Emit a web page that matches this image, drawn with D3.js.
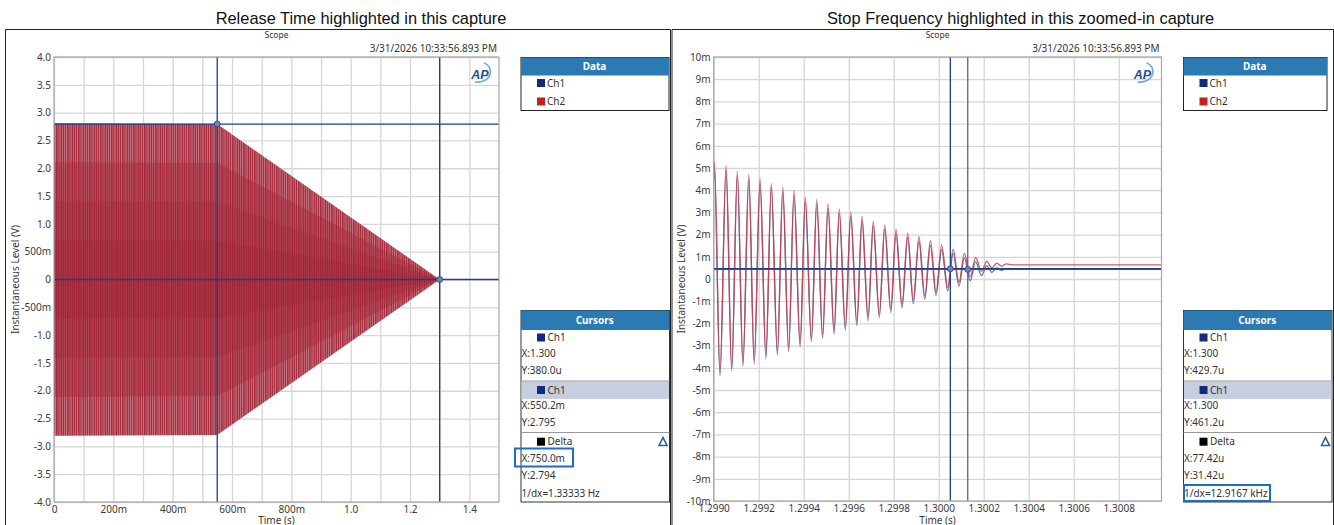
<!DOCTYPE html>
<html>
<head>
<meta charset="utf-8">
<script src="https://cdn.jsdelivr.net/npm/d3@7"></script>
<style>
  html, body { margin: 0; padding: 0; background: #fff; }
  svg { display: block; }
</style>
</head>
<body>
<svg id="chart" width="1334" height="525"></svg>
<script>
// ---------- captions ----------
const captureTitles = [
  "Release Time highlighted in this capture",
  "Stop Frequency highlighted in this zoomed-in capture"
];
const scopeName = "Scope";
const timestamp = "3/31/2026 10:33:56.893 PM";
const seriesNames = ["Ch1", "Ch2"];
const yAxisTitle = "Instantaneous Level (V)";
const xAxisTitle = "Time (s)";

// ---------- release capture (full burst) ----------
// envelope of the tone burst: time (s) and peak amplitude (V)
const releaseEnvTime = [0, 0.5502, 1.300, 1.5];
const releaseEnvAmp  = [2.81, 2.795, 0, 0];
const releaseXTicks = [0, 0.2, 0.4, 0.6, 0.8, 1.0, 1.2, 1.4];
const releaseXTickLabels = ["0", "200m", "400m", "600m", "800m", "1.0", "1.2", "1.4"];
const releaseXGrid = [0, 0.1, 0.2, 0.3, 0.4, 0.5, 0.6, 0.7, 0.8, 0.9, 1.0, 1.1, 1.2, 1.3, 1.4];
const releaseYTicks = [4, 3.5, 3, 2.5, 2, 1.5, 1, 0.5, 0, -0.5, -1, -1.5, -2, -2.5, -3, -3.5, -4];
const releaseYTickLabels = ["4.0", "3.5", "3.0", "2.5", "2.0", "1.5", "1.0", "500m", "0",
  "-500m", "-1.0", "-1.5", "-2.0", "-2.5", "-3.0", "-3.5", "-4.0"];
// cursor 1, cursor 2 (time s, level V)
const releaseCursorX = [1.300, 0.5502];
const releaseCursorY = [380.0e-6, 2.795];
const releaseCursorText = [
  ["X:1.300", "Y:380.0u"],
  ["X:550.2m", "Y:2.795"],
  ["X:750.0m", "Y:2.794", "1/dx=1.33333 Hz"]
];

// ---------- stop capture (zoomed around 1.300 s) ----------
// turning points of the decaying tone: time (s), Ch2 and Ch1 level (mV)
const stopTime = [
  1.299000, 1.299003, 1.299028, 1.299055, 1.299080, 1.299105, 1.299130, 1.299156,
  1.299180, 1.299206, 1.299232, 1.299256, 1.299283, 1.299307, 1.299333, 1.299357,
  1.299384, 1.299407, 1.299434, 1.299458, 1.299484, 1.299508, 1.299535, 1.299558,
  1.299585, 1.299609, 1.299636, 1.299659, 1.299686, 1.299709, 1.299736, 1.299760,
  1.299787, 1.299810, 1.299837, 1.299862, 1.299887, 1.299912, 1.299938, 1.299963,
  1.299988, 1.300013, 1.300040, 1.300064, 1.300090, 1.300114, 1.300140, 1.300164,
  1.300190, 1.300213, 1.300236, 1.300258, 1.300280, 1.300300, 1.300330, 1.300990
];
const stopCh2 = [
  4.60, 5.27, -4.23, 5.12, -4.00, 4.86, -3.77, 4.71,
  -3.67, 4.52, -3.44, 4.30, -3.27, 4.14, -3.12, 3.98,
  -2.91, 3.70, -2.67, 3.58, -2.52, 3.38, -2.33, 3.15,
  -2.14, 3.02, -1.95, 2.82, -1.73, 2.59, -1.58, 2.44,
  -1.35, 2.25, -1.15, 2.06, -0.97, 1.91, -0.77, 1.73,
  -0.59, 1.53, -0.38, 1.35, -0.15, 1.15, 0.10, 0.97,
  0.35, 0.79, 0.50, 0.71, 0.58, 0.68, 0.64, 0.64
];
const stopCh1 = [
  4.40, 5.05, -4.38, 4.92, -4.15, 4.66, -3.92, 4.51,
  -3.82, 4.32, -3.59, 4.10, -3.42, 3.94, -3.27, 3.78,
  -3.06, 3.50, -2.82, 3.38, -2.67, 3.18, -2.48, 2.95,
  -2.29, 2.82, -2.10, 2.62, -1.88, 2.39, -1.73, 2.24,
  -1.50, 2.05, -1.30, 1.86, -1.12, 1.71, -0.92, 1.53,
  -0.74, 1.33, -0.53, 1.15, -0.32, 0.95, -0.08, 0.78,
  0.15, 0.60, 0.30, 0.50, 0.38, 0.47, 0.44, 0.44
];
const stopXTicks = [1.2990, 1.2992, 1.2994, 1.2996, 1.2998, 1.3000, 1.3002, 1.3004, 1.3006, 1.3008];
const stopXTickLabels = ["1.2990", "1.2992", "1.2994", "1.2996", "1.2998", "1.3000", "1.3002", "1.3004", "1.3006", "1.3008"];
const stopYTicks = [10, 9, 8, 7, 6, 5, 4, 3, 2, 1, 0, -1, -2, -3, -4, -5, -6, -7, -8, -9, -10];
const stopYTickLabels = ["10m", "9m", "8m", "7m", "6m", "5m", "4m", "3m", "2m", "1m", "0",
  "-1m", "-2m", "-3m", "-4m", "-5m", "-6m", "-7m", "-8m", "-9m", "-10m"];
// cursor 1, cursor 2 (time s, level mV)
const stopCursorX = [1.3001290, 1.3000516];
const stopCursorY = [0.4297, 0.4612];
const stopCursorText = [
  ["X:1.300", "Y:429.7u"],
  ["X:1.300", "Y:461.2u"],
  ["X:77.42u", "Y:31.42u", "1/dx=12.9167 kHz"]
];

// ---------- styling ----------
const C = {
  ch1: "#0f2d7a", ch2: "#c42222",
  ch1Trace: "#4a66a6", ch2Trace: "#c9404a",
  cursor: "#1e3d8a", grid: "#d6d6d6", frame: "#a6a6a6",
  header: "#2b7ab4", text: "#333", highlight: "#1b6ec2", band: "#c6cee0"
};
const UI_FONT = "'Noto Sans', 'Open Sans', sans-serif";

const svg = d3.select("#chart");
const defs = svg.append("defs");

// stripe texture for the dense burst
const pat = defs.append("pattern").attr("id", "stripes")
  .attr("patternUnits", "userSpaceOnUse").attr("width", 11).attr("height", 10);
[[0, 0.8], [2.7, 0.6], [4.6, 0.9], [7.4, 0.6], [9.2, 0.7]].forEach(([x, w]) =>
  pat.append("rect").attr("x", x).attr("y", 0).attr("width", w).attr("height", 10).attr("fill", "#fff"));

// ---------- outer frames and titles ----------
svg.append("path").attr("d", "M5.5,525V29.5H670.5V525")
  .attr("fill", "none").attr("stroke", "#222").attr("stroke-width", 1);
svg.append("path").attr("d", "M672,525V29.5H1333.5V525")
  .attr("fill", "none").attr("stroke", "#222").attr("stroke-width", 1);

[[361, captureTitles[0]], [1020.5, captureTitles[1]]].forEach(([x, t]) =>
  svg.append("text").attr("x", x).attr("y", 18).attr("dy", "0.35em")
    .attr("text-anchor", "middle").attr("font-family", "'Liberation Sans', Arial, sans-serif")
    .attr("font-size", 16.4).attr("fill", "#111").text(t));

// ---------- plot scaffolding ----------
function drawPlot(cfg) {
  const g = svg.append("g");
  const x = d3.scaleLinear(cfg.xDomain, [cfg.left, cfg.right]);
  const y = d3.scaleLinear(cfg.yDomain, [cfg.bottom, cfg.top]);
  const w = cfg.right - cfg.left, h = cfg.bottom - cfg.top;

  g.append("rect").attr("x", cfg.left).attr("y", cfg.top).attr("width", w).attr("height", h).attr("fill", "#fff");

  // grid
  const gx = g.append("g").attr("transform", `translate(0,${cfg.bottom})`)
    .call(d3.axisBottom(x).tickValues(cfg.xGrid).tickSize(-h).tickFormat(""));
  const gy = g.append("g").attr("transform", `translate(${cfg.left},0)`)
    .call(d3.axisLeft(y).tickValues(cfg.yTicks).tickSize(-w).tickFormat(""));
  [gx, gy].forEach(a => {
    a.select(".domain").remove();
    a.selectAll("line").attr("stroke", C.grid).attr("stroke-width", 1.3);
  });

  // tick labels
  const ax = g.append("g").attr("transform", `translate(0,${cfg.bottom})`)
    .call(d3.axisBottom(x).tickValues(cfg.xTicks).tickSize(0).tickPadding(cfg.xPad)
      .tickFormat((d, i) => cfg.xTickLabels[i]));
  const ay = g.append("g").attr("transform", `translate(${cfg.left},0)`)
    .call(d3.axisLeft(y).tickValues(cfg.yTicks).tickSize(0).tickPadding(3)
      .tickFormat((d, i) => cfg.yTickLabels[i]));
  [ax, ay].forEach(a => {
    a.select(".domain").remove();
    a.selectAll("text").attr("font-family", UI_FONT).attr("font-size", 10).attr("fill", "#3a3a3a");
  });

  // axis titles
  g.append("text").attr("x", (cfg.left + cfg.right) / 2).attr("y", 521).attr("dy", "0.3em")
    .attr("text-anchor", "middle").attr("font-family", UI_FONT).attr("font-size", 10)
    .attr("fill", "#3a3a3a").text(xAxisTitle);
  g.append("text").attr("transform", `translate(${cfg.yTitleX},${(cfg.top + cfg.bottom) / 2}) rotate(-90)`)
    .attr("dy", "0.35em").attr("text-anchor", "middle").attr("font-family", UI_FONT)
    .attr("font-size", 10).attr("fill", "#3a3a3a").text(yAxisTitle);

  // scope name and timestamp
  g.append("text").attr("x", (cfg.left + cfg.right) / 2).attr("y", 35).attr("dy", "0.35em")
    .attr("text-anchor", "middle").attr("font-family", UI_FONT).attr("font-size", 8.5)
    .attr("fill", "#333").text(scopeName);
  g.append("text").attr("x", cfg.right - 2).attr("y", 48).attr("dy", "0.35em")
    .attr("text-anchor", "end").attr("font-family", UI_FONT).attr("font-size", 10)
    .attr("fill", "#333").text(timestamp);

  const clip = "clip" + cfg.id;
  defs.append("clipPath").attr("id", clip).append("rect")
    .attr("x", cfg.left).attr("y", cfg.top).attr("width", w).attr("height", h);
  const plot = g.append("g").attr("clip-path", `url(#${clip})`);
  const over = g.append("g");
  return { g, plot, over, x, y, cfg };
}

function drawFrameAndLogo(p) {
  const { cfg } = p;
  p.over.append("rect").attr("x", cfg.left).attr("y", cfg.top)
    .attr("width", cfg.right - cfg.left).attr("height", cfg.bottom - cfg.top)
    .attr("fill", "none").attr("stroke", C.frame).attr("stroke-width", 1.2);
  const lx = cfg.right - 18, ly = 74;
  const logo = p.over.append("g").attr("transform", `translate(${lx},${ly})`);
  logo.append("path").attr("d", "M-6,8 C4,9 11,3 9,-5 C8,-8 6,-10 3,-11")
    .attr("fill", "none").attr("stroke", "#6fa8dc").attr("stroke-width", 1.6);
  logo.append("text").attr("x", -1).attr("y", 0).attr("dy", "0.36em").attr("text-anchor", "middle")
    .attr("font-family", "'Liberation Sans', Arial, sans-serif").attr("font-weight", "bold")
    .attr("font-style", "italic").attr("font-size", 12.5).attr("fill", "#1c4f97").text("AP");
}

function drawCursors(p, xs, ys, styles) {
  xs.forEach((cx, i) => {
    const px = p.x(cx), py = p.y(ys[i]);
    p.plot.append("line").attr("x1", px).attr("x2", px).attr("y1", p.cfg.top).attr("y2", p.cfg.bottom)
      .attr("stroke", styles[i]).attr("stroke-width", 1.3);
    p.plot.append("line").attr("x1", p.cfg.left).attr("x2", p.cfg.right).attr("y1", py).attr("y2", py)
      .attr("stroke", styles[i]).attr("stroke-width", 1.3);
  });
  xs.forEach((cx, i) => {
    p.plot.append("circle").attr("cx", p.x(cx)).attr("cy", p.y(ys[i])).attr("r", 3)
      .attr("fill", "#7282ad").attr("stroke", C.cursor).attr("stroke-width", 0.8);
  });
}

// ---------- left: release capture ----------
const P1 = drawPlot({
  id: "A", left: 54, right: 499, top: 57, bottom: 502,
  xDomain: [0, 1.5], yDomain: [-4, 4],
  xGrid: releaseXGrid, xTicks: releaseXTicks, xTickLabels: releaseXTickLabels,
  yTicks: releaseYTicks, yTickLabels: releaseYTickLabels, xPad: 4, yTitleX: 15
});
const envRows = releaseEnvTime.map((t, i) => ({ t, a: releaseEnvAmp[i] }));
// nested shading bands of the burst (outer band lightest)
const bands = [
  { f: 1.00, fill: "#a82f40", stripe: 0.42 },
  { f: 0.75, fill: "#a52b3c", stripe: 0.24 },
  { f: 0.50, fill: "#a3293a", stripe: 0.16 },
  { f: 0.25, fill: "#a12738", stripe: 0.10 }
];
bands.forEach(b => {
  const area = d3.area().x(d => P1.x(d.t)).y0(d => P1.y(-d.a * b.f)).y1(d => P1.y(d.a * b.f));
  P1.plot.append("path").datum(envRows).attr("d", area).attr("fill", b.fill);
  P1.plot.append("path").datum(envRows).attr("d", area).attr("fill", "url(#stripes)").attr("opacity", b.stripe);
});
drawCursors(P1, releaseCursorX, releaseCursorY, [C.cursor, C.cursor]);
drawFrameAndLogo(P1);

// ---------- right: zoomed stop capture ----------
const P2 = drawPlot({
  id: "B", left: 713.7, right: 1161.5, top: 57, bottom: 501,
  xDomain: [1.2990, 1.30099], yDomain: [-10, 10],
  xGrid: stopXTicks, xTicks: stopXTicks, xTickLabels: stopXTickLabels,
  yTicks: stopYTicks, yTickLabels: stopYTickLabels, xPad: 4, yTitleX: 681
});
const traceLine = vals => d3.line().curve(d3.curveMonotoneX)
  .x((d, i) => P2.x(stopTime[i])).y(d => P2.y(d))(vals);
P2.plot.append("path").attr("d", traceLine(stopCh1)).attr("fill", "none")
  .attr("stroke", C.ch1Trace).attr("stroke-width", 1.3).attr("opacity", 0.9);
P2.plot.append("path").attr("d", traceLine(stopCh2)).attr("fill", "none")
  .attr("stroke", C.ch2Trace).attr("stroke-width", 1.3).attr("opacity", 0.85);
drawCursors(P2, stopCursorX, stopCursorY, ["#4f6496", C.cursor]);
drawFrameAndLogo(P2);

// ---------- side panels ----------
function drawDataPanel(x0, x1) {
  const g = svg.append("g");
  g.append("rect").attr("x", x0 + 0.5).attr("y", 57.5).attr("width", x1 - x0).attr("height", 53)
    .attr("fill", "#fff").attr("stroke", "#222");
  g.append("rect").attr("x", x0 + 0.5).attr("y", 57.5).attr("width", x1 - x0).attr("height", 18).attr("fill", C.header);
  g.append("text").attr("x", (x0 + x1) / 2).attr("y", 66.5).attr("dy", "0.35em").attr("text-anchor", "middle")
    .attr("font-family", UI_FONT).attr("font-weight", "bold").attr("font-size", 10).attr("fill", "#fff").text("Data");
  seriesNames.forEach((name, i) => {
    const cy = 83 + i * 18.5;
    g.append("rect").attr("x", x0 + 16.5).attr("y", cy - 4).attr("width", 8).attr("height", 8)
      .attr("fill", i === 0 ? C.ch1 : C.ch2);
    g.append("text").attr("x", x0 + 26.5).attr("y", cy).attr("dy", "0.35em")
      .attr("font-family", UI_FONT).attr("font-size", 10).attr("fill", C.text).text(name);
  });
}

function drawCursorPanel(x0, x1, texts) {
  const g = svg.append("g");
  const w = x1 - x0;
  g.append("rect").attr("x", x0 + 0.5).attr("y", 310.5).attr("width", w).attr("height", 191.5)
    .attr("fill", "#fff").attr("stroke", "#333");
  g.append("rect").attr("x", x0 + 0.5).attr("y", 310.5).attr("width", w).attr("height", 19.5).attr("fill", C.header);
  g.append("rect").attr("x", x0 + 1).attr("y", 381.5).attr("width", w - 1).attr("height", 17.5).attr("fill", C.band);
  [381, 432.5].forEach(yy => g.append("line").attr("x1", x0 + 0.5).attr("x2", x1 + 0.5)
    .attr("y1", yy).attr("y2", yy).attr("stroke", "#9a9a9a").attr("stroke-width", 1));
  g.append("text").attr("x", x0 + w / 2).attr("y", 320).attr("dy", "0.35em").attr("text-anchor", "middle")
    .attr("font-family", UI_FONT).attr("font-weight", "bold").attr("font-size", 10).attr("fill", "#fff").text("Cursors");

  const headRows = [[337.5, "Ch1", C.ch1], [390, "Ch1", C.ch1], [441.7, "Delta", "#000"]];
  headRows.forEach(([cy, label, col]) => {
    g.append("rect").attr("x", x0 + 16.5).attr("y", cy - 4).attr("width", 8).attr("height", 8).attr("fill", col);
    g.append("text").attr("x", x0 + 27).attr("y", cy).attr("dy", "0.35em")
      .attr("font-family", UI_FONT).attr("font-size", 10).attr("fill", C.text).text(label);
  });
  const rowY = [[353, 370], [405.5, 422.3], [458.5, 475.5, 493.3]];
  texts.forEach((grp, gi) => grp.forEach((t, ti) => {
    g.append("text").attr("x", x0 + 1).attr("y", rowY[gi][ti]).attr("dy", "0.35em")
      .attr("font-family", UI_FONT).attr("font-size", 10).attr("fill", C.text).text(t);
  }));
  // delta marker
  const tx = x1 - 6, ty = 441.5;
  g.append("path").attr("d", `M${tx - 4},${ty + 4}L${tx},${ty - 4}L${tx + 4},${ty + 4}Z`)
    .attr("fill", "none").attr("stroke", "#2160a8").attr("stroke-width", 1.6).attr("stroke-linejoin", "miter");
  return g;
}

drawDataPanel(520.5, 668.5);
drawDataPanel(1183, 1326.5);
const cp1 = drawCursorPanel(520.5, 669, releaseCursorText);
const cp2 = drawCursorPanel(1183, 1331.5, stopCursorText);

// emphasised readouts
cp1.append("rect").attr("x", 515).attr("y", 448.5).attr("width", 58).attr("height", 18)
  .attr("fill", "none").attr("stroke", C.highlight).attr("stroke-width", 2);
cp2.append("rect").attr("x", 1184).attr("y", 485).attr("width", 86).attr("height", 16)
  .attr("fill", "none").attr("stroke", C.highlight).attr("stroke-width", 2);
</script>
</body>
</html>
